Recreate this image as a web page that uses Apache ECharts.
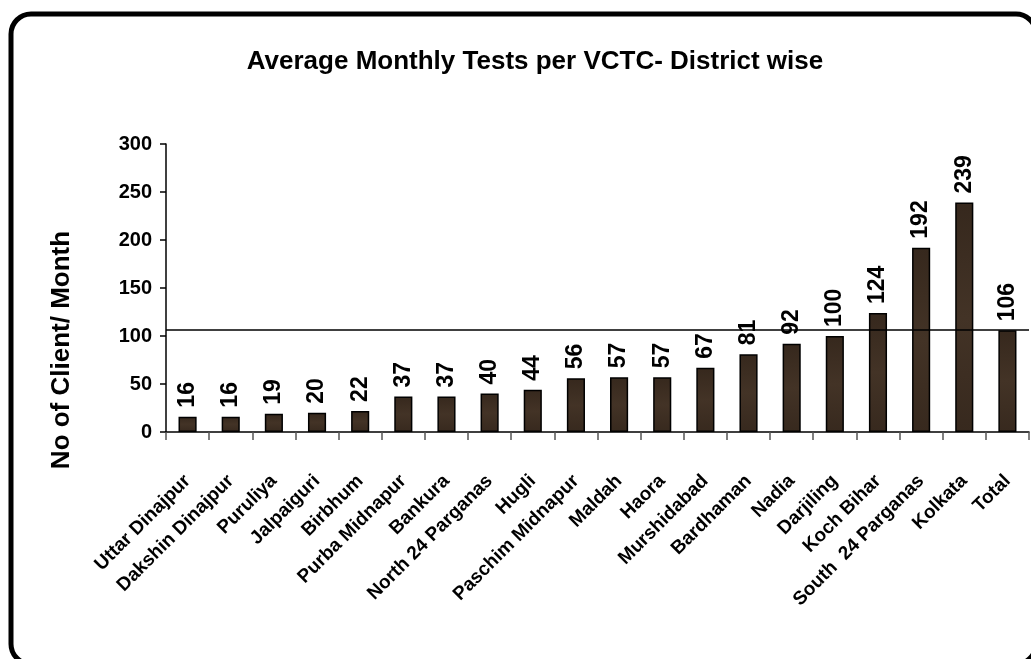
<!DOCTYPE html>
<html>
<head>
<meta charset="utf-8">
<title>Average Monthly Tests per VCTC</title>
<script src="https://cdn.jsdelivr.net/npm/echarts@6/dist/echarts.min.js"></script>
<style>
  html, body {
    margin: 0;
    padding: 0;
    background: #fff;
  }
  #main {
    width: 1031px;
    height: 659px;
  }
</style>
</head>
<body>
<div id="main"></div>
<script>
// districts (x axis)
const districts = [
  'Uttar Dinajpur', 'Dakshin Dinajpur', 'Puruliya', 'Jalpaiguri', 'Birbhum',
  'Purba Midnapur', 'Bankura', 'North 24 Parganas', 'Hugli', 'Paschim Midnapur',
  'Maldah', 'Haora', 'Murshidabad', 'Bardhaman', 'Nadia',
  'Darjiling', 'Koch Bihar', 'South  24 Parganas', 'Kolkata', 'Total'
]
// average tests per month
const avgTests = [16, 16, 19, 20, 22, 37, 37, 40, 44, 56, 57, 57, 67, 81, 92, 100, 124, 192, 239, 106]
// state average line
const overallAvg = 106
const yTicks = [0, 50, 100, 150, 200, 250, 300]

const font = '"Liberation Sans", Arial, sans-serif'

const chart = echarts.init(document.getElementById('main'))

const option = {
  backgroundColor: '#fff',
  animation: false,
  title: {
    text: 'Average Monthly Tests per VCTC- District wise',
    left: 530,
    top: 44,
    textAlign: 'center',
    textStyle: {
      fontFamily: font,
      fontWeight: 'bold',
      fontSize: 26,
      color: '#000',
    },
  },
  graphic: [
    // rounded frame, right and bottom edges run off the picture
    {
      type: 'rect',
      silent: true,
      shape: { x: 11, y: 14, width: 1025, height: 650, r: 20 },
      style: { fill: 'none', stroke: '#000', lineWidth: 5 },
    },
    // y axis title, sits lower than the axis middle
    {
      type: 'text',
      silent: true,
      x: 62,
      y: 350,
      rotation: Math.PI / 2,
      style: {
        text: 'No of Client/ Month',
        align: 'center',
        verticalAlign: 'middle',
        fontFamily: font,
        fontWeight: 'bold',
        fontSize: 26,
        fill: '#000',
      },
    },
  ],
  grid: {
    left: 166,
    right: 2,
    top: 144,
    bottom: 227,
  },
  xAxis: {
    type: 'category',
    data: districts,
    axisLine: { lineStyle: { color: '#000', width: 1.5 } },
    axisTick: {
      show: true,
      length: 8,
      lineStyle: { color: '#555', width: 1.5 },
    },
    axisLabel: {
      interval: 0,
      rotate: 45,
      margin: 46,
      fontFamily: font,
      fontWeight: 'bold',
      fontSize: 19,
      color: '#000',
    },
  },
  yAxis: {
    type: 'value',
    min: yTicks[0],
    max: yTicks[yTicks.length - 1],
    interval: yTicks[1] - yTicks[0],
    axisLine: { show: true, lineStyle: { color: '#000', width: 1.5 } },
    axisTick: { show: true, length: 6, lineStyle: { color: '#000', width: 1.5 } },
    splitLine: { show: false },
    axisLabel: {
      margin: 14,
      fontFamily: font,
      fontWeight: 'bold',
      fontSize: 20,
      color: '#000',
    },
  },
  series: [
    {
      type: 'bar',
      data: avgTests,
      barWidth: '42%',
      itemStyle: {
        color: {
          type: 'linear',
          x: 0,
          y: 0,
          x2: 0,
          y2: 1,
          colorStops: [
            { offset: 0, color: '#36281d' },
            { offset: 0.5, color: '#433326' },
            { offset: 1, color: '#37291e' },
          ],
        },
        borderColor: '#000',
        borderWidth: 1.5,
      },
      label: {
        show: true,
        position: 'top',
        rotate: 90,
        align: 'left',
        verticalAlign: 'middle',
        distance: 9,
        fontFamily: font,
        fontWeight: 'bold',
        fontSize: 23,
        color: '#000',
      },
      markLine: {
        silent: true,
        symbol: 'none',
        label: { show: false },
        lineStyle: { color: '#000', width: 1.5, type: 'solid' },
        data: [{ yAxis: overallAvg }],
      },
    },
  ],
}

option && chart.setOption(option)
</script>
</body>
</html>
